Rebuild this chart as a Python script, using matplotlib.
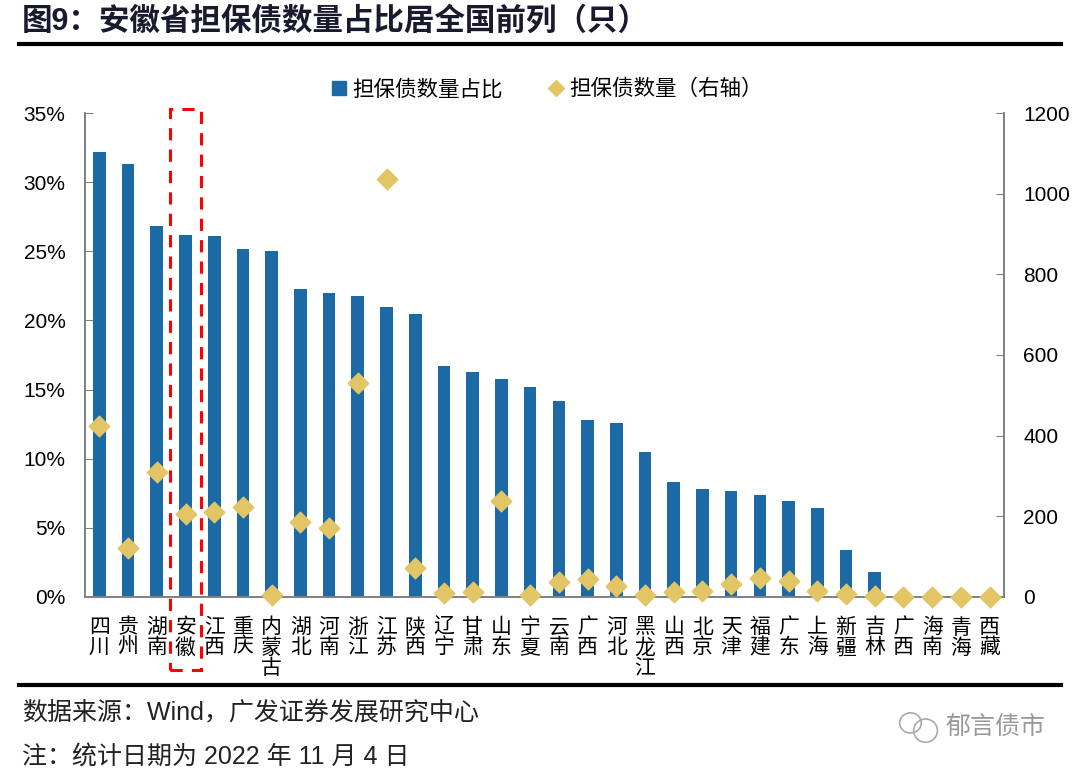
import numpy as np
import matplotlib.pyplot as plt
from matplotlib.lines import Line2D
from matplotlib.patches import Rectangle, Ellipse

plt.rcParams['font.family'] = ['Liberation Sans', 'Noto Sans CJK SC']

# 省份（x 轴）
provinces = ['四川', '贵州', '湖南', '安徽', '江西', '重庆', '内蒙古', '湖北', '河南', '浙江',
             '江苏', '陕西', '辽宁', '甘肃', '山东', '宁夏', '云南', '广西', '河北', '黑龙江',
             '山西', '北京', '天津', '福建', '广东', '上海', '新疆', '吉林', '广西', '海南',
             '青海', '西藏']
# 担保债数量占比（%）
share = [32.2, 31.3, 26.8, 26.2, 26.1, 25.15, 25.0, 22.3, 22.0, 21.8,
         21.0, 20.5, 16.7, 16.25, 15.8, 15.2, 14.2, 12.8, 12.55, 10.45,
         8.35, 7.8, 7.65, 7.35, 6.95, 6.45, 3.4, 1.8, 0, 0,
         0, 0]
# 担保债数量（只，右轴）
count = [425, 122, 310, 205, 210, 223, 6, 185, 170, 530,
         1037, 72, 11, 12, 239, 5, 36, 45, 28, 5,
         12, 15, 31, 46, 39, 14, 7, 2, 0, 0,
         0, 0]

left_ticks = [0, 5, 10, 15, 20, 25, 30, 35]
right_ticks = [0, 200, 400, 600, 800, 1000, 1200]

BLUE = '#1b6aa5'
GOLD = '#e2c565'
GREY = '#808080'

fig = plt.figure(figsize=(10.8, 7.74), dpi=100)
ax = fig.add_axes([0.0787, 0.2287, 0.8509, 0.6253])
ax2 = ax.twinx()

x = np.arange(len(provinces))
ax.bar(x, share, width=0.44, color=BLUE, zorder=2)
ax2.scatter(x, count, marker='D', s=110, color=GOLD, zorder=3, clip_on=False)

ax.set_xlim(-0.5, len(provinces) - 0.5)
ax.set_ylim(0, 35)
ax2.set_ylim(0, 1200)
ax.set_yticks(left_ticks)
ax.set_yticklabels([f'{t}%' for t in left_ticks])
ax2.set_yticks(right_ticks)
ax2.set_yticklabels([str(t) for t in right_ticks])

ax.set_xticks(x)
ax.set_xticklabels(['\n'.join(p) for p in provinces], fontsize=15, linespacing=1.05,
                   va='top')
ax.tick_params(axis='x', length=0, pad=15)
ax.tick_params(axis='y', direction='in', length=6, color=GREY, labelsize=15, pad=14)
ax2.tick_params(axis='y', direction='in', length=6, color=GREY, labelsize=15, pad=14)

for a in (ax, ax2):
    a.spines['top'].set_visible(False)
    for s in ('left', 'right', 'bottom'):
        a.spines[s].set_color(GREY)
        a.spines[s].set_linewidth(1.2)

# 安徽 红色虚线框
ax.add_patch(Rectangle((3 - 0.53, -0.15), 1.06, 1.158, transform=ax.get_xaxis_transform(),
                       fill=False, edgecolor='red', linestyle=(0, (4, 3)), linewidth=2.2,
                       clip_on=False, zorder=5))

handles = [Line2D([], [], marker='s', linestyle='none', color=BLUE, markersize=10),
           Line2D([], [], marker='D', linestyle='none', color=GOLD, markersize=8)]
fig.legend(handles, ['担保债数量占比', '担保债数量（右轴）'], loc='center', ncol=2,
           bbox_to_anchor=(0.505, 0.884), frameon=False, fontsize=15.5,
           handletextpad=0.1, columnspacing=2.0, handlelength=1.0)

fig.text(0.02, 0.972, '图9：安徽省担保债数量占比居全国前列（只）', fontsize=22,
         fontweight='bold', color='#1a1a2e', va='center', ha='left')
fig.add_artist(Line2D([0.018, 0.982], [0.943, 0.943], color='black', linewidth=3))
fig.add_artist(Line2D([0.018, 0.982], [0.115, 0.115], color='black', linewidth=3))

fig.text(0.02, 0.080, '数据来源：Wind，广发证券发展研究中心', fontsize=18, va='center', ha='left',
         color='#222222')
fig.text(0.02, 0.022, '注：统计日期为 2022 年 11 月 4 日', fontsize=18, va='center', ha='left',
         color='#222222')
fig.text(0.968, 0.060, '郁言债市', fontsize=18, va='center', ha='right', color='#999999')
# 水印图标（两个对话气泡）
fig.add_artist(Ellipse((0.843, 0.066), 0.020, 0.026, fill=False, edgecolor='#aaaaaa', linewidth=1.2))
fig.add_artist(Ellipse((0.857, 0.056), 0.022, 0.030, fill=False, edgecolor='#aaaaaa', linewidth=1.2,
                       facecolor='white'))

fig.savefig('out.png', dpi=100)
